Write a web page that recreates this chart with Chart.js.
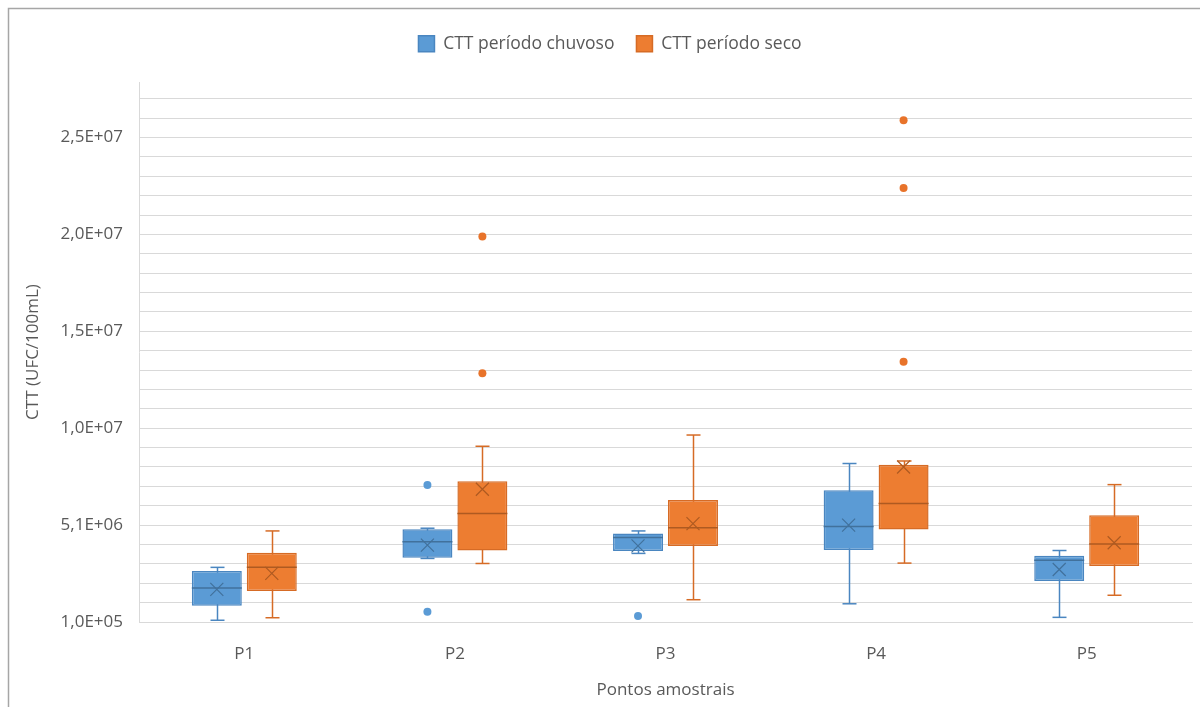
<!DOCTYPE html>
<html>
<head>
<meta charset="utf-8">
<script src="https://cdn.jsdelivr.net/npm/chart.js@4/dist/chart.umd.min.js"></script>
<style>
  html, body { margin: 0; padding: 0; background: #ffffff; }
  #wrap { width: 1200px; height: 707px; position: relative; }
</style>
</head>
<body>
<div id="wrap"><canvas id="c" width="1200" height="707"></canvas></div>
<script>
// ---------------- DATA ----------------
const categories = ['P1', 'P2', 'P3', 'P4', 'P5'];
const seriesNames = ['CTT período chuvoso', 'CTT período seco'];

// CTT período chuvoso
const chuvosoMin      = [0.19e6, 3.38e6, 3.64e6, 1.04e6, 0.34e6];
const chuvosoQ1       = [0.94e6, 3.41e6, 3.77e6, 3.81e6, 2.21e6];
const chuvosoMedian   = [1.85e6, 4.24e6, 4.46e6, 5.03e6, 3.29e6];
const chuvosoQ3       = [2.73e6, 4.89e6, 4.67e6, 6.90e6, 3.52e6];
const chuvosoMax      = [2.92e6, 4.94e6, 4.80e6, 8.28e6, 3.79e6];
const chuvosoMean     = [1.78e6, 4.07e6, 4.03e6, 5.10e6, 2.81e6];
const chuvosoOutliers = [[], [7.17e6, 0.63e6], [0.41e6], [], []];

// CTT período seco
const secoMin      = [0.32e6, 3.12e6, 1.25e6, 3.14e6, 1.48e6];
const secoQ1       = [1.70e6, 3.79e6, 4.02e6, 4.88e6, 2.99e6];
const secoMedian   = [2.93e6, 5.70e6, 4.96e6, 6.21e6, 4.12e6];
const secoQ3       = [3.67e6, 7.36e6, 6.40e6, 8.22e6, 5.61e6];
const secoMax      = [4.80e6, 9.17e6, 9.75e6, 8.41e6, 7.19e6];
const secoMean     = [2.61e6, 6.95e6, 5.18e6, 8.10e6, 4.19e6];
const secoOutliers = [[], [1.999e7, 1.294e7], [], [2.600e7, 2.250e7, 1.353e7], []];

// Axis
const yMin = 1e5;
const yMax = 2.797e7;
const gridStep = 1e6;
const tickValues = [1e5, 5.1e6, 1.01e7, 1.51e7, 2.01e7, 2.51e7];
const tickLabels = ['1,0E+05', '5,1E+06', '1,0E+07', '1,5E+07', '2,0E+07', '2,5E+07'];
const yTitle = 'CTT (UFC/100mL)';
const xTitle = 'Pontos amostrais';

// ---------------- STYLE ----------------
const FONT = "'Open Sans', 'Noto Sans', sans-serif";
const TEXT = '#595959';
const styles = [
  { fill: '#5b9bd5', border: '#4a86c0', dark: '#41719c', dot: '#5b9bd5' },
  { fill: '#ed7d31', border: '#d66b25', dark: '#ae5a21', dot: '#e8732a' }
];
const stats = [
  { min: chuvosoMin, q1: chuvosoQ1, med: chuvosoMedian, q3: chuvosoQ3, max: chuvosoMax, mean: chuvosoMean, out: chuvosoOutliers },
  { min: secoMin, q1: secoQ1, med: secoMedian, q3: secoQ3, max: secoMax, mean: secoMean, out: secoOutliers }
];

const gridValues = [];
for (let v = yMin; v <= yMax + 1; v += gridStep) gridValues.push(v);

function labelFor(v) {
  for (let i = 0; i < tickValues.length; i++) {
    if (Math.abs(tickValues[i] - v) < 10) return tickLabels[i];
  }
  return '';
}

// ---------------- PLUGINS ----------------
const frame = {
  id: 'frame',
  beforeDraw(chart) {
    const ctx = chart.ctx;
    ctx.save();
    ctx.strokeStyle = '#a6a6a6';
    ctx.lineWidth = 1.5;
    ctx.beginPath();
    ctx.moveTo(8.5, 707);
    ctx.lineTo(8.5, 8.5);
    ctx.lineTo(1200, 8.5);
    ctx.stroke();
    ctx.restore();
  }
};

const legendSpacer = {
  id: 'legendSpacer',
  beforeLayout(chart) {
    const lg = chart.legend;
    if (lg && !lg.__sp) {
      const orig = lg.fit;
      lg.fit = function () { orig.call(this); if (this.height > 0) this.height += 19.5; };
      lg.__sp = true;
    }
  },
  afterLayout(chart) {
    const lg = chart.legend;
    if (lg) { lg.left += 14; lg.right += 14; }
  }
};

const boxExtras = {
  id: 'boxExtras',
  beforeDatasetsDraw(chart) {
    const ctx = chart.ctx, y = chart.scales.y;
    ctx.save();
    stats.forEach((s, d) => {
      const meta = chart.getDatasetMeta(d);
      meta.data.forEach((bar, i) => {
        const x = Math.round(bar.x) + 0.5;
        ctx.strokeStyle = styles[d].border;
        ctx.lineWidth = 1.5;
        ctx.beginPath();
        ctx.moveTo(x, y.getPixelForValue(s.min[i]));
        ctx.lineTo(x, y.getPixelForValue(s.max[i]));
        ctx.stroke();
        const cap = 7;
        [s.min[i], s.max[i]].forEach(v => {
          const py = y.getPixelForValue(v);
          ctx.beginPath();
          ctx.moveTo(x - cap, py);
          ctx.lineTo(x + cap, py);
          ctx.stroke();
        });
      });
    });
    ctx.restore();
  },
  afterDatasetsDraw(chart) {
    const ctx = chart.ctx, y = chart.scales.y;
    ctx.save();
    stats.forEach((s, d) => {
      const meta = chart.getDatasetMeta(d);
      meta.data.forEach((bar, i) => {
        const x = bar.x, w = bar.width;
        // median
        const my = y.getPixelForValue(s.med[i]);
        ctx.strokeStyle = styles[d].dark;
        ctx.lineWidth = 1.5;
        ctx.beginPath();
        ctx.moveTo(x - w / 2, my);
        ctx.lineTo(x + w / 2, my);
        ctx.stroke();
        // mean (X)
        const ay = y.getPixelForValue(s.mean[i]);
        const h = 6.5;
        ctx.lineWidth = 1.2;
        ctx.beginPath();
        ctx.moveTo(x - h, ay - h); ctx.lineTo(x + h, ay + h);
        ctx.moveTo(x - h, ay + h); ctx.lineTo(x + h, ay - h);
        ctx.stroke();
        // outliers
        ctx.fillStyle = styles[d].dot;
        s.out[i].forEach(v => {
          ctx.beginPath();
          ctx.arc(x, y.getPixelForValue(v), 4, 0, Math.PI * 2);
          ctx.fill();
        });
      });
    });
    ctx.restore();
  }
};

// ---------------- CHART ----------------
const datasets = stats.map((s, d) => ({
  label: seriesNames[d],
  data: categories.map((c, i) => [s.q1[i], s.q3[i]]),
  backgroundColor: styles[d].fill,
  borderColor: styles[d].border,
  borderWidth: 1.5,
  borderSkipped: false,
  categoryPercentage: 0.522,
  barPercentage: 0.909
}));

new Chart(document.getElementById('c'), {
  type: 'bar',
  data: { labels: categories, datasets },
  plugins: [frame, legendSpacer, boxExtras],
  options: {
    responsive: false,
    animation: false,
    events: [],
    layout: { padding: { left: 0, right: 8, top: 13, bottom: 0 } },
    plugins: {
      tooltip: { enabled: false },
      legend: {
        display: true,
        position: 'top',
        labels: {
          boxWidth: 16, boxHeight: 16, padding: 22,
          color: TEXT, font: { family: FONT, size: 17.5 }
        }
      }
    },
    scales: {
      x: {
        grid: { display: false, drawTicks: false },
        border: { display: true, color: '#d9d9d9', width: 1 },
        ticks: { color: TEXT, font: { family: FONT, size: 17 }, padding: 22 },
        title: { display: true, text: xTitle, color: TEXT, font: { family: FONT, size: 17 }, padding: { top: 0, bottom: 7 } },
        afterFit(scale) { scale.height = 85; }
      },
      y: {
        min: yMin, max: yMax,
        grid: { color: '#d9d9d9', lineWidth: 1, drawTicks: false },
        border: { display: true, color: '#d9d9d9', width: 1 },
        ticks: { color: TEXT, font: { family: FONT, size: 17 }, padding: 16, autoSkip: false,
                 callback: (v) => labelFor(v) },
        afterBuildTicks(scale) { scale.ticks = gridValues.map(v => ({ value: v })); },
        title: { display: true, text: yTitle, color: TEXT, font: { family: FONT, size: 17 }, padding: { top: 23, bottom: 0 } },
        afterFit(scale) { scale.width = 139; }
      }
    }
  }
});
</script>
</body>
</html>
